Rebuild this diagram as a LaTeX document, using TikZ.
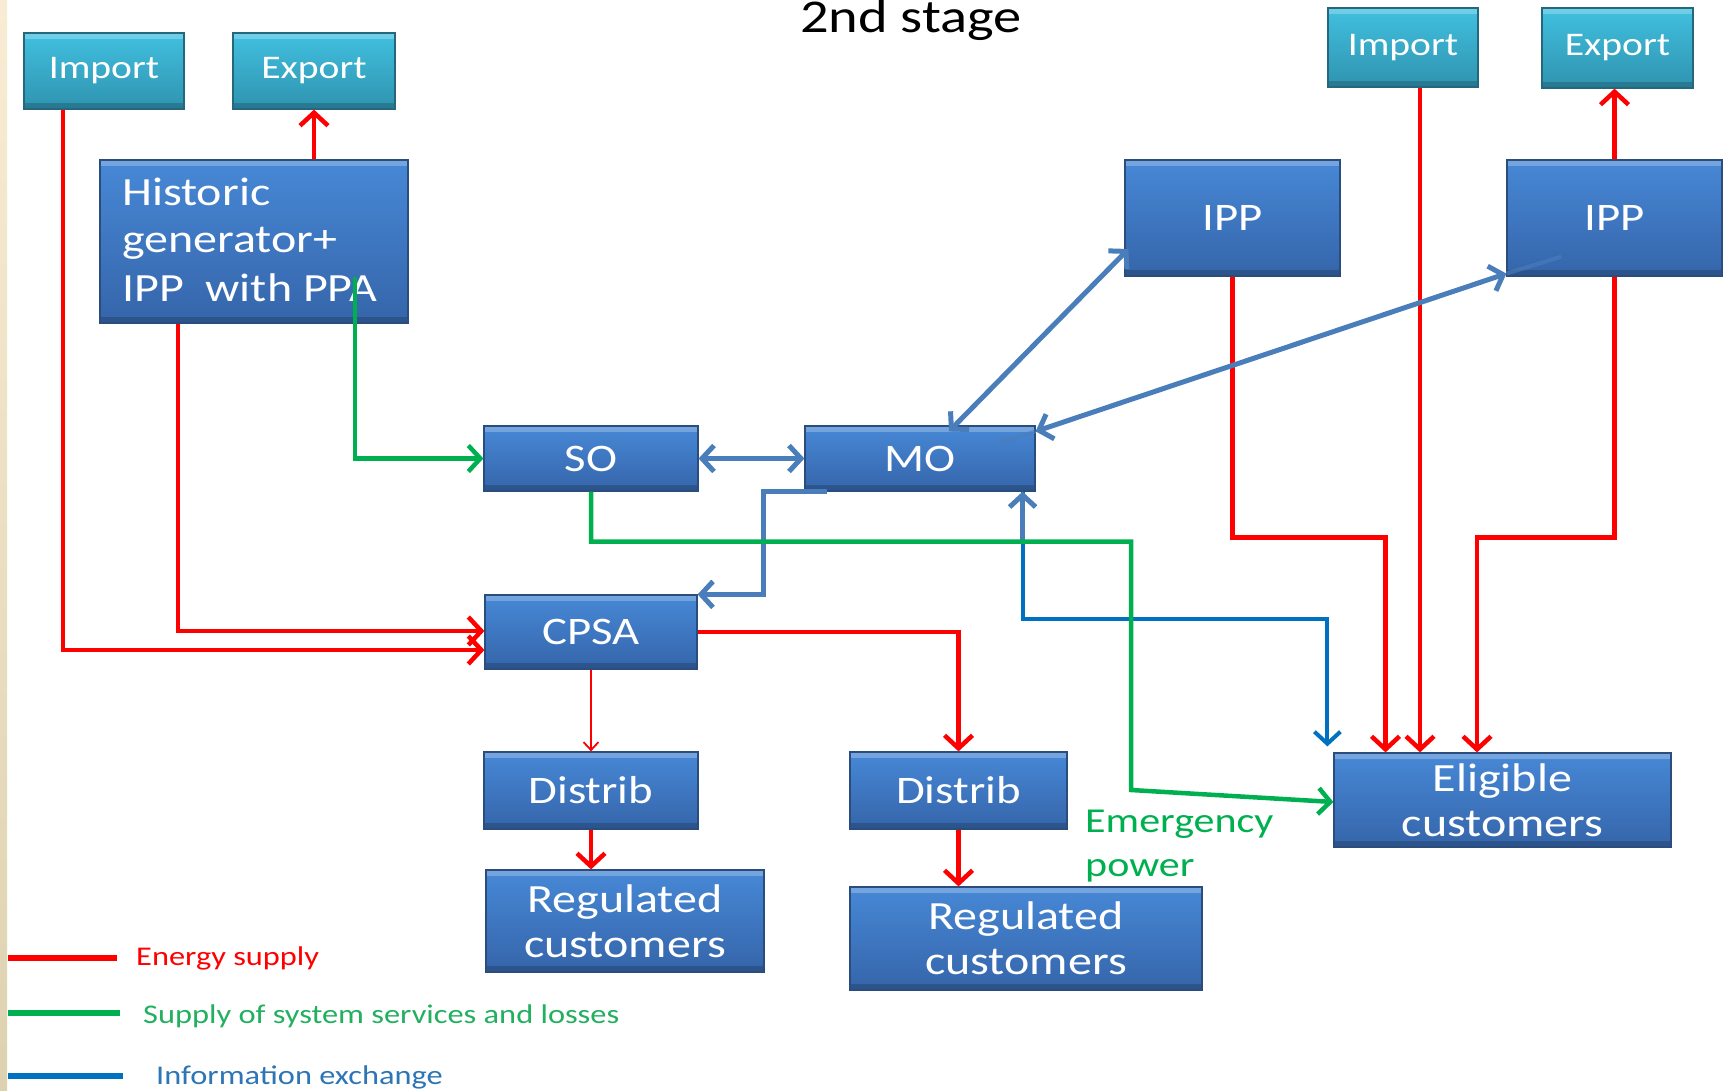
\documentclass[tikz,border=0pt]{standalone}
\usepackage{fontspec}
\setmainfont{Carlito}[FakeStretch=1.2]
\usetikzlibrary{arrows.meta,calc}
\definecolor{ered}{HTML}{FF0000}
\definecolor{egreen}{HTML}{00B050}
\definecolor{sblue}{HTML}{4A7EBB}
\definecolor{iblue}{HTML}{0070C0}
\definecolor{boxtop}{HTML}{4788D6}
\definecolor{boxbot}{HTML}{3565AA}
\definecolor{boxline}{HTML}{2A4D7E}
\definecolor{tealtop}{HTML}{41C0E0}
\definecolor{tealbot}{HTML}{2F93AF}
\definecolor{tealline}{HTML}{25687E}
\definecolor{beigeT}{HTML}{F8ECD4}
\definecolor{beigeB}{HTML}{DDD2B0}
\definecolor{legblue}{HTML}{2E75B6}
\definecolor{leggreen}{HTML}{22B060}
\begin{document}
\begin{tikzpicture}[x=1pt,y=-1pt,
  bevel/.style={path picture={
     \fill[white,opacity=0.25] (path picture bounding box.north west) rectangle ([yshift=-6pt]path picture bounding box.north east);
     \fill[black,opacity=0.18] (path picture bounding box.south west) rectangle ([yshift=6pt]path picture bounding box.south east);}},
  bbox/.style={rectangle, inner sep=0pt, top color=boxtop, bottom color=boxbot, draw=boxline, line width=1.2pt,
     text=white, font=\fontsize{39}{45}\selectfont, align=center, bevel},
  tbox/.style={rectangle, inner sep=0pt, top color=tealtop, bottom color=tealbot, draw=tealline, line width=1.2pt,
     text=white, font=\fontsize{33}{40}\selectfont, align=center, bevel},
  twoline/.style={font=\fontsize{40}{45}\selectfont},
  en/.style={draw=ered, line width=4.5pt, -{Straight Barb[length=13pt,width=28pt]}},
  enthin/.style={draw=ered, line width=1.8pt, -{Straight Barb[length=8pt,width=15pt]}},
  sb/.style={draw=sblue, line width=5pt, {Straight Barb[length=12pt,width=26pt]}-{Straight Barb[length=12pt,width=26pt]}},
  sbone/.style={draw=sblue, line width=5pt, -{Straight Barb[length=12pt,width=26pt]}},
  info/.style={draw=iblue, line width=4pt, -{Straight Barb[length=12pt,width=26pt]}},
  sup/.style={draw=egreen, line width=4.5pt, -{Straight Barb[length=12pt,width=26pt]}},
  legtext/.style={anchor=base west, inner sep=0pt, font=\fontsize{27}{30}\selectfont},
  histtext/.style={anchor=base west, inner sep=0pt, text=white, font=\fontsize{40}{48}\selectfont}
]
\useasboundingbox (0,0) rectangle (1727,1091);
\fill[white] (0,0) rectangle (1727,1091);
\shade[top color=beigeT, bottom color=beigeB] (0,0) rectangle (7,1091);

% title
\node[anchor=base, inner sep=0pt, font=\fontsize{47}{52}\selectfont] (title) at (911,33) {2nd stage};

% boxes
\node[tbox, minimum width=160pt, minimum height=76pt] (impL) at (104,71) {Import};
\node[tbox, minimum width=162pt, minimum height=76pt] (expL) at (314,71) {Export};
\node[tbox, minimum width=150pt, minimum height=79pt] (impR) at (1403,47.5) {Import};
\node[tbox, minimum width=151pt, minimum height=80pt] (expR) at (1617.5,48) {Export};
\node[bbox, minimum width=308pt, minimum height=163pt] (hist) at (254,241.5) {};
\node[histtext] (hist1) at (122,206) {Historic};
\node[histtext] (hist2) at (122,253) {generator+};
\node[histtext] (hist3) at (122,302) {IPP\ \ with PPA};
\node[bbox, minimum width=215pt, minimum height=116pt] (ipp1) at (1232.5,218) {IPP};
\node[bbox, minimum width=215pt, minimum height=116pt] (ipp2) at (1614.5,218) {IPP};
\node[bbox, minimum width=214pt, minimum height=65pt] (so) at (591,458.5) {SO};
\node[bbox, minimum width=230pt, minimum height=65pt] (mo) at (920,458.5) {MO};
\node[bbox, minimum width=212pt, minimum height=74pt] (cpsa) at (591,632) {CPSA};
\node[bbox, minimum width=214pt, minimum height=77pt] (dis1) at (591,790.5) {Distrib};
\node[bbox, minimum width=217pt, minimum height=77pt] (dis2) at (958.5,790.5) {Distrib};
\node[bbox, twoline, minimum width=278pt, minimum height=102pt] (reg1) at (625,921) {Regulated\\customers};
\node[bbox, twoline, minimum width=352pt, minimum height=103pt] (reg2) at (1026,938.5) {Regulated\\customers};
\node[bbox, twoline, minimum width=337pt, minimum height=94pt] (elig) at (1502.5,800) {Eligible\\customers};

% emergency label
\node[anchor=base west, inner sep=0pt, text=egreen, font=\fontsize{35}{40}\selectfont] (emerg1) at (1085,832) {Emergency};
\node[anchor=base west, inner sep=0pt, text=egreen, font=\fontsize{35}{40}\selectfont] (emerg2) at (1085,876) {power};

% energy supply (red)
\draw[en] ([xshift=-41pt]impL.south) |- ([yshift=-18pt]cpsa.west);
\draw[en] ([xshift=-76pt]hist.south) |- ([yshift=1pt]cpsa.west);
\draw[en] (expL.south |- hist.north) -- (expL.south);
\draw[enthin] (cpsa.south) -- (dis1.north);
\draw[en] (cpsa.east) -| (dis2.north);
\draw[en] (dis1.south) -- (dis1.south |- reg1.north);
\draw[en] (dis2.south) -- (dis2.south |- reg2.north);
\draw[en] (ipp1.south) -- ++(0,261) -| ([xshift=-117pt]elig.north);
\draw[en] ([xshift=17pt]impR.south) -- ([xshift=17pt]impR.south |- elig.north);
\draw[en] (ipp2.south) -- ++(0,261) -| ([xshift=-25.5pt]elig.north);
\draw[en] (ipp2.north) -- (ipp2.north |- expR.south);

% information exchange (blue)
\draw[sb] (so.east) -- (mo.west);
\draw[sbone] ([xshift=-93pt]mo.south) -| ($(cpsa.north east)+(66,0)$) -- (cpsa.north east);
\draw[sb] ([xshift=29pt,yshift=-6pt]mo.north) -- ([xshift=4pt,yshift=-31pt]ipp1.west);
\draw[sb] ([yshift=-6pt]mo.north east) -- ([yshift=3pt]ipp2.south west);
\draw[draw=sblue, line width=4pt, opacity=0.6] ([yshift=3pt]ipp2.south west) -- ++(55,-17);
\draw[draw=sblue, line width=4pt, opacity=0.6] ([yshift=-6pt]mo.north east) -- ++(-38,12);
\draw[info] ([xshift=-13pt]mo.south east) -- ++(0,127) -| ([xshift=-6pt,yshift=6pt]elig.north west);
\coordinate (infomid) at ([xshift=-13pt,yshift=-50pt]mo.south east);
\draw[sbone] (infomid) -- ([xshift=-13pt]mo.south east);

% system services (green)
\coordinate (gstart) at (355,277);
\draw[sup] (gstart) |- (so.west);
\coordinate (gcorner) at (1131,790);
\draw[sup] (so.south) -- ++(0,50) -| (gcorner) -- ([yshift=-2pt]elig.west);

% legend
\draw[ered, line width=6pt] (8,958) -- (117,958);
\node[legtext, text=ered] (leg1) at (136,965) {Energy supply};
\draw[egreen, line width=6pt] (8,1013) -- (120,1013);
\node[legtext, text=leggreen] (leg2) at (143,1023) {Supply of system services and losses};
\draw[iblue, line width=6pt] (8,1076) -- (123,1076);
\node[legtext, text=legblue] (leg3) at (156,1084) {Information exchange};
\end{tikzpicture}
\end{document}
